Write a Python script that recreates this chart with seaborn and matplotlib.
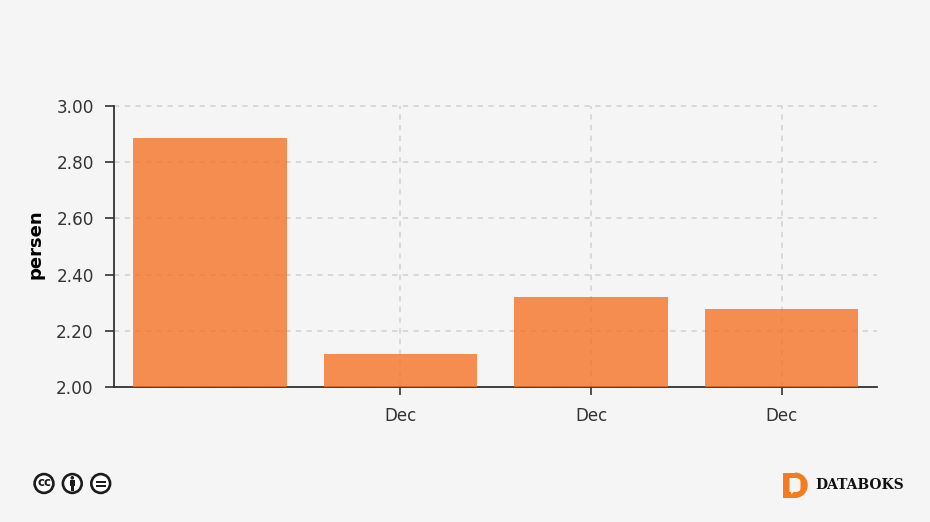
import numpy as np
import pandas as pd
import matplotlib
matplotlib.use("Agg")
import matplotlib.pyplot as plt
from matplotlib.patches import Circle, Rectangle, Polygon, Wedge
import seaborn as sns

# Data
positions = [0, 1, 2, 3]
values = [2.885, 2.118, 2.32, 2.277]
tick_positions = [1, 2, 3]
tick_labels = ["Dec", "Dec", "Dec"]
y_ticks = [2.00, 2.20, 2.40, 2.60, 2.80, 3.00]
y_label = "persen"
brand = "DATABOKS"

BG = "#f5f5f5"
INK = "#333333"
W, H = 930, 522

sns.set_theme(style="white", rc={"figure.facecolor": BG, "axes.facecolor": BG})
plt.rcParams["font.family"] = ["DejaVu Sans"]

fig = plt.figure(figsize=(W / 100, H / 100), dpi=100, facecolor=BG)
ax = fig.add_axes([114 / W, 1 - 387 / H, (877 - 114) / W, (387 - 106) / H])
ax.set_facecolor(BG)

df = pd.DataFrame({"pos": positions, "value": values})
sns.barplot(data=df, x="pos", y="value", color="#f57227", saturation=1, alpha=0.8,
            width=0.805, ax=ax, zorder=3, linewidth=0)

ax.set_xlim(-0.503, 3.5)
ax.set_ylim(y_ticks[0], y_ticks[-1])
ax.set_xticks(tick_positions)
ax.set_xticklabels(tick_labels, fontsize=12, color=INK)
ax.set_yticks(y_ticks)
ax.set_yticklabels([f"{v:.2f}" for v in y_ticks], fontsize=12.2, color=INK)
ax.set_xlabel("")
ax.set_ylabel(y_label, fontsize=13, fontweight="bold", color="black", va="center")
ax.yaxis.set_label_coords((35 - 114) / (877 - 114), 0.507)

ax.grid(True, axis="both", color="#d0d0d0", linestyle=(0, (3.5, 3.5)), linewidth=1.1, zorder=1)
ax.set_axisbelow(True)
for line in ax.get_xgridlines() + ax.get_ygridlines():
    line.set_clip_on(False)
ax.tick_params(axis="x", length=6, width=1.2, color=INK, pad=8.5, bottom=True)
ax.tick_params(axis="y", length=6.5, width=1.2, color=INK, pad=8, left=True)
sns.despine(ax=ax)
for s in ("left", "bottom"):
    ax.spines[s].set_color(INK)
    ax.spines[s].set_linewidth(1.3)

# Footer marks, drawn in pixel coordinates of the picture
ov = fig.add_axes([0, 0, 1, 1], facecolor="none")
ov.set_xlim(0, W)
ov.set_ylim(H, 0)
ov.axis("off")

DARK = "#1c1c1c"
for cx in (44, 72.3, 100.7):
    ov.add_patch(Circle((cx, 483.5), 9.4, fc="white", ec=DARK, lw=1.9))
ov.text(44, 482.8, "cc", ha="center", va="center", fontsize=8.5, fontweight="bold", color=DARK)
# person
ov.add_patch(Circle((72.3, 477.8), 1.8, fc=DARK, ec="none"))
ov.add_patch(Rectangle((69.8, 480.2), 5, 5.8, fc=DARK, ec="none"))
ov.add_patch(Rectangle((70.9, 485.5), 2.8, 5.5, fc=DARK, ec="none"))
# equals
ov.add_patch(Rectangle((95.7, 480.6), 10, 2, fc=DARK, ec="none"))
ov.add_patch(Rectangle((95.7, 484.8), 10, 2, fc=DARK, ec="none"))

# Logo
ORANGE = "#f47b20"
ov.add_patch(Rectangle((783, 472.5), 12.5, 25.5, fc=ORANGE, ec="none"))
ov.add_patch(Wedge((795, 485.25), 12.75, -90, 90, fc=ORANGE, ec="none"))
ov.add_patch(Polygon([(789.5, 478), (797, 478), (800, 479.5), (800.5, 482), (800.5, 488), (800, 490.5),
                      (797, 492), (793.5, 492), (791.5, 494.5), (791, 492), (789.5, 492)],
                     closed=True, fc=BG, ec="none"))
ov.text(815, 485.3, brand, ha="left", va="center", fontsize=10, fontweight="bold",
        family="DejaVu Serif", color="#111111")

fig.savefig("out.png", dpi=100, facecolor=BG)
